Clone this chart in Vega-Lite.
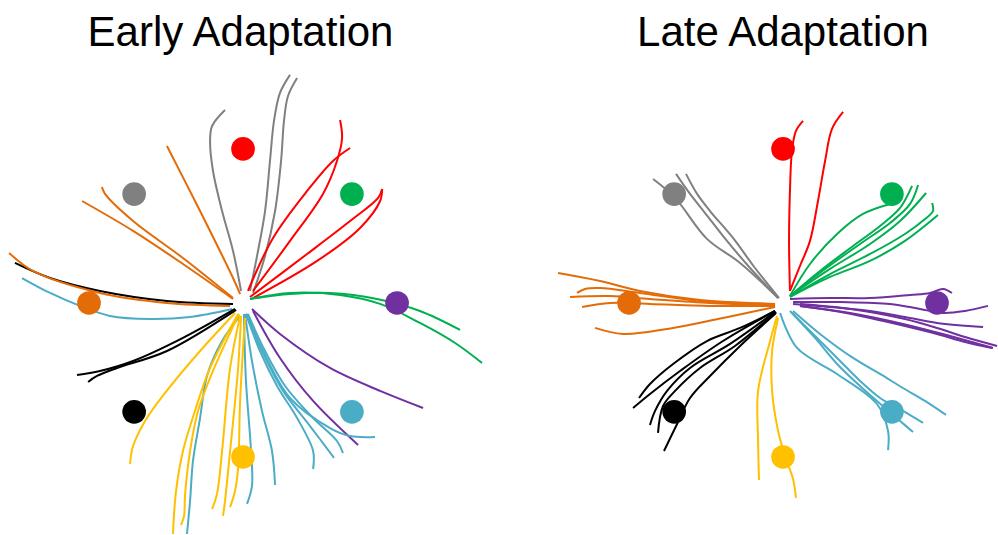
{
"$schema": "https://vega.github.io/schema/vega-lite/v6.json",
"padding": {"top": 12, "left": 0, "right": 0, "bottom": 0},
"spacing": 5,
"background": "white",
"config": {"view": {"stroke": null}, "title": {"font": "Liberation Sans", "fontSize": 42, "fontWeight": "normal", "color": "#000000", "anchor": "middle", "frame": "group", "offset": 6}},
"resolve": {"scale": {"x": "independent", "y": "independent"}},
"datasets": {
"targets": [
{"target":"0°","x":10,"y":0},{"target":"45°","x":7.07,"y":7.07},{"target":"90°","x":0,"y":10},{"target":"135°","x":-7.07,"y":7.07},
{"target":"180°","x":-10,"y":0},{"target":"225°","x":-7.07,"y":-7.07},{"target":"270°","x":0,"y":-10},{"target":"315°","x":7.07,"y":-7.07}
],
"paths": [
{"phase":"Early","target":"135°","traj":"E1","i":0,"x":-1.17,"y":12.53},{"phase":"Early","target":"135°","traj":"E1","i":1,"x":-2.01,"y":11.49},{"phase":"Early","target":"135°","traj":"E1","i":2,"x":-2.14,"y":10.52},{"phase":"Early","target":"135°","traj":"E1","i":3,"x":-1.95,"y":8.57},{"phase":"Early","target":"135°","traj":"E1","i":4,"x":-1.36,"y":5.97},{"phase":"Early","target":"135°","traj":"E1","i":5,"x":-0.65,"y":3.38},{"phase":"Early","target":"135°","traj":"E1","i":6,"x":-0.13,"y":0.78},
{"phase":"Early","target":"135°","traj":"E2","i":0,"x":3.05,"y":14.81},{"phase":"Early","target":"135°","traj":"E2","i":1,"x":2.40,"y":13.64},{"phase":"Early","target":"135°","traj":"E2","i":2,"x":2.01,"y":11.82},{"phase":"Early","target":"135°","traj":"E2","i":3,"x":1.75,"y":9.22},{"phase":"Early","target":"135°","traj":"E2","i":4,"x":1.43,"y":5.97},{"phase":"Early","target":"135°","traj":"E2","i":5,"x":0.91,"y":3.05},{"phase":"Early","target":"135°","traj":"E2","i":6,"x":0.45,"y":0.78},
{"phase":"Early","target":"135°","traj":"E3","i":0,"x":3.51,"y":14.61},{"phase":"Early","target":"135°","traj":"E3","i":1,"x":2.92,"y":13.44},{"phase":"Early","target":"135°","traj":"E3","i":2,"x":2.66,"y":11.82},{"phase":"Early","target":"135°","traj":"E3","i":3,"x":2.47,"y":9.22},{"phase":"Early","target":"135°","traj":"E3","i":4,"x":2.08,"y":5.97},{"phase":"Early","target":"135°","traj":"E3","i":5,"x":1.43,"y":3.05},{"phase":"Early","target":"135°","traj":"E3","i":6,"x":0.65,"y":0.65},
{"phase":"Early","target":"90°","traj":"E4","i":0,"x":0.32,"y":0.78},{"phase":"Early","target":"90°","traj":"E4","i":1,"x":1.95,"y":4.22},{"phase":"Early","target":"90°","traj":"E4","i":2,"x":4.16,"y":7.27},{"phase":"Early","target":"90°","traj":"E4","i":3,"x":5.84,"y":9.22},{"phase":"Early","target":"90°","traj":"E4","i":4,"x":6.95,"y":10.06},
{"phase":"Early","target":"90°","traj":"E5","i":0,"x":0.65,"y":0.78},{"phase":"Early","target":"90°","traj":"E5","i":1,"x":3.05,"y":4.03},{"phase":"Early","target":"90°","traj":"E5","i":2,"x":5.19,"y":7.08},{"phase":"Early","target":"90°","traj":"E5","i":3,"x":6.10,"y":9.22},{"phase":"Early","target":"90°","traj":"E5","i":4,"x":6.43,"y":10.71},{"phase":"Early","target":"90°","traj":"E5","i":5,"x":6.30,"y":11.88},
{"phase":"Early","target":"90°","traj":"E6","i":0,"x":0.45,"y":0.39},{"phase":"Early","target":"90°","traj":"E6","i":1,"x":4.16,"y":3.18},{"phase":"Early","target":"90°","traj":"E6","i":2,"x":6.95,"y":5.32},{"phase":"Early","target":"90°","traj":"E6","i":3,"x":8.77,"y":6.82},{"phase":"Early","target":"90°","traj":"E6","i":4,"x":9.03,"y":7.40},
{"phase":"Early","target":"90°","traj":"E7","i":0,"x":0.65,"y":0.32},{"phase":"Early","target":"90°","traj":"E7","i":1,"x":4.81,"y":2.73},{"phase":"Early","target":"90°","traj":"E7","i":2,"x":7.60,"y":4.87},{"phase":"Early","target":"90°","traj":"E7","i":3,"x":8.90,"y":6.62},{"phase":"Early","target":"90°","traj":"E7","i":4,"x":9.03,"y":7.40},
{"phase":"Early","target":"45°","traj":"E8","i":0,"x":0.45,"y":0.26},{"phase":"Early","target":"45°","traj":"E8","i":1,"x":3.05,"y":0.58},{"phase":"Early","target":"45°","traj":"E8","i":2,"x":5.65,"y":0.65},{"phase":"Early","target":"45°","traj":"E8","i":3,"x":8.70,"y":0.26},{"phase":"Early","target":"45°","traj":"E8","i":4,"x":11.49,"y":-0.52},{"phase":"Early","target":"45°","traj":"E8","i":5,"x":14.09,"y":-1.75},
{"phase":"Early","target":"45°","traj":"E9","i":0,"x":0.45,"y":0.26},{"phase":"Early","target":"45°","traj":"E9","i":1,"x":3.05,"y":0.65},{"phase":"Early","target":"45°","traj":"E9","i":2,"x":6.30,"y":0.52},{"phase":"Early","target":"45°","traj":"E9","i":3,"x":8.90,"y":-0.06},{"phase":"Early","target":"45°","traj":"E9","i":4,"x":11.49,"y":-1.30},{"phase":"Early","target":"45°","traj":"E9","i":5,"x":13.77,"y":-2.60},{"phase":"Early","target":"45°","traj":"E9","i":6,"x":15.52,"y":-3.90},
{"phase":"Early","target":"0°","traj":"E10","i":0,"x":0.58,"y":-0.39},{"phase":"Early","target":"0°","traj":"E10","i":1,"x":2.40,"y":-2.01},{"phase":"Early","target":"0°","traj":"E10","i":2,"x":5.65,"y":-4.22},{"phase":"Early","target":"0°","traj":"E10","i":3,"x":8.90,"y":-5.71},{"phase":"Early","target":"0°","traj":"E10","i":4,"x":11.69,"y":-6.82},
{"phase":"Early","target":"0°","traj":"E11","i":0,"x":0.65,"y":-0.52},{"phase":"Early","target":"0°","traj":"E11","i":1,"x":2.40,"y":-3.57},{"phase":"Early","target":"0°","traj":"E11","i":2,"x":4.55,"y":-6.36},{"phase":"Early","target":"0°","traj":"E11","i":3,"x":7.47,"y":-9.22},
{"phase":"Early","target":"315°","traj":"E12","i":0,"x":0.26,"y":-0.71},{"phase":"Early","target":"315°","traj":"E12","i":1,"x":1.30,"y":-3.12},{"phase":"Early","target":"315°","traj":"E12","i":2,"x":3.05,"y":-6.17},{"phase":"Early","target":"315°","traj":"E12","i":3,"x":5.65,"y":-8.12},{"phase":"Early","target":"315°","traj":"E12","i":4,"x":6.95,"y":-8.64},{"phase":"Early","target":"315°","traj":"E12","i":5,"x":8.57,"y":-8.70},
{"phase":"Early","target":"315°","traj":"E13","i":0,"x":0.32,"y":-0.71},{"phase":"Early","target":"315°","traj":"E13","i":1,"x":1.43,"y":-3.12},{"phase":"Early","target":"315°","traj":"E13","i":2,"x":2.73,"y":-5.39},{"phase":"Early","target":"315°","traj":"E13","i":3,"x":4.55,"y":-7.47},{"phase":"Early","target":"315°","traj":"E13","i":4,"x":6.10,"y":-8.96},{"phase":"Early","target":"315°","traj":"E13","i":5,"x":6.49,"y":-9.74},
{"phase":"Early","target":"315°","traj":"E14","i":0,"x":0.19,"y":-0.71},{"phase":"Early","target":"315°","traj":"E14","i":1,"x":1.23,"y":-3.12},{"phase":"Early","target":"315°","traj":"E14","i":2,"x":2.60,"y":-5.71},{"phase":"Early","target":"315°","traj":"E14","i":3,"x":4.35,"y":-7.99},{"phase":"Early","target":"315°","traj":"E14","i":4,"x":5.91,"y":-10.06},
{"phase":"Early","target":"315°","traj":"E15","i":0,"x":0.19,"y":-0.71},{"phase":"Early","target":"315°","traj":"E15","i":1,"x":1.10,"y":-3.12},{"phase":"Early","target":"315°","traj":"E15","i":2,"x":2.21,"y":-5.39},{"phase":"Early","target":"315°","traj":"E15","i":3,"x":3.51,"y":-7.47},{"phase":"Early","target":"315°","traj":"E15","i":4,"x":4.55,"y":-9.61},{"phase":"Early","target":"315°","traj":"E15","i":5,"x":4.55,"y":-10.78},
{"phase":"Early","target":"315°","traj":"E16","i":0,"x":0.13,"y":-0.71},{"phase":"Early","target":"315°","traj":"E16","i":1,"x":0.58,"y":-3.77},{"phase":"Early","target":"315°","traj":"E16","i":2,"x":1.23,"y":-7.01},{"phase":"Early","target":"315°","traj":"E16","i":3,"x":1.88,"y":-9.61},{"phase":"Early","target":"315°","traj":"E16","i":4,"x":2.08,"y":-11.82},
{"phase":"Early","target":"315°","traj":"E17","i":0,"x":0.06,"y":-0.71},{"phase":"Early","target":"315°","traj":"E17","i":1,"x":0.19,"y":-5.06},{"phase":"Early","target":"315°","traj":"E17","i":2,"x":0.52,"y":-9.61},{"phase":"Early","target":"315°","traj":"E17","i":3,"x":0.58,"y":-11.88},{"phase":"Early","target":"315°","traj":"E17","i":4,"x":0.26,"y":-13.05},
{"phase":"Early","target":"315°","traj":"E18","i":0,"x":-0.19,"y":-0.84},{"phase":"Early","target":"315°","traj":"E18","i":1,"x":-1.36,"y":-2.47},{"phase":"Early","target":"315°","traj":"E18","i":2,"x":-2.34,"y":-4.74},{"phase":"Early","target":"315°","traj":"E18","i":3,"x":-2.79,"y":-7.47},{"phase":"Early","target":"315°","traj":"E18","i":4,"x":-3.25,"y":-10.26},{"phase":"Early","target":"315°","traj":"E18","i":5,"x":-3.44,"y":-12.86},{"phase":"Early","target":"315°","traj":"E18","i":6,"x":-3.64,"y":-15.00},
{"phase":"Early","target":"315°","traj":"E19","i":0,"x":-0.71,"y":-0.39},{"phase":"Early","target":"315°","traj":"E19","i":1,"x":-3.44,"y":-0.91},{"phase":"Early","target":"315°","traj":"E19","i":2,"x":-6.04,"y":-1.04},{"phase":"Early","target":"315°","traj":"E19","i":3,"x":-8.64,"y":-0.84},{"phase":"Early","target":"315°","traj":"E19","i":4,"x":-10.58,"y":-0.19},{"phase":"Early","target":"315°","traj":"E19","i":5,"x":-12.53,"y":0.65},{"phase":"Early","target":"315°","traj":"E19","i":6,"x":-14.35,"y":1.62},
{"phase":"Early","target":"270°","traj":"E20","i":0,"x":-0.32,"y":-0.71},{"phase":"Early","target":"270°","traj":"E20","i":1,"x":-2.14,"y":-4.22},{"phase":"Early","target":"270°","traj":"E20","i":2,"x":-3.12,"y":-7.01},{"phase":"Early","target":"270°","traj":"E20","i":3,"x":-3.90,"y":-9.61},{"phase":"Early","target":"270°","traj":"E20","i":4,"x":-4.35,"y":-12.21},{"phase":"Early","target":"270°","traj":"E20","i":5,"x":-4.55,"y":-15.00},
{"phase":"Early","target":"270°","traj":"E21","i":0,"x":-0.26,"y":-0.71},{"phase":"Early","target":"270°","traj":"E21","i":1,"x":-2.01,"y":-4.55},{"phase":"Early","target":"270°","traj":"E21","i":2,"x":-2.92,"y":-7.01},{"phase":"Early","target":"270°","traj":"E21","i":3,"x":-3.44,"y":-9.61},{"phase":"Early","target":"270°","traj":"E21","i":4,"x":-3.77,"y":-12.53},{"phase":"Early","target":"270°","traj":"E21","i":5,"x":-3.83,"y":-13.83},{"phase":"Early","target":"270°","traj":"E21","i":6,"x":-4.03,"y":-14.42},
{"phase":"Early","target":"270°","traj":"E22","i":0,"x":-0.19,"y":-0.84},{"phase":"Early","target":"270°","traj":"E22","i":1,"x":-0.84,"y":-4.22},{"phase":"Early","target":"270°","traj":"E22","i":2,"x":-1.36,"y":-9.61},{"phase":"Early","target":"270°","traj":"E22","i":3,"x":-1.69,"y":-12.40},{"phase":"Early","target":"270°","traj":"E22","i":4,"x":-2.01,"y":-13.38},
{"phase":"Early","target":"270°","traj":"E23","i":0,"x":-0.13,"y":-0.84},{"phase":"Early","target":"270°","traj":"E23","i":1,"x":-0.32,"y":-4.22},{"phase":"Early","target":"270°","traj":"E23","i":2,"x":-0.84,"y":-9.61},{"phase":"Early","target":"270°","traj":"E23","i":3,"x":-1.17,"y":-12.86},{"phase":"Early","target":"270°","traj":"E23","i":4,"x":-1.30,"y":-13.83},
{"phase":"Early","target":"270°","traj":"E24","i":0,"x":0.13,"y":-0.97},{"phase":"Early","target":"270°","traj":"E24","i":1,"x":-0.19,"y":-6.36},{"phase":"Early","target":"270°","traj":"E24","i":2,"x":-0.32,"y":-10.71},{"phase":"Early","target":"270°","traj":"E24","i":3,"x":-0.52,"y":-12.21},{"phase":"Early","target":"270°","traj":"E24","i":4,"x":-0.84,"y":-13.25},
{"phase":"Early","target":"270°","traj":"E25","i":0,"x":-0.52,"y":-0.65},{"phase":"Early","target":"270°","traj":"E25","i":1,"x":-2.79,"y":-3.12},{"phase":"Early","target":"270°","traj":"E25","i":2,"x":-5.06,"y":-5.84},{"phase":"Early","target":"270°","traj":"E25","i":3,"x":-6.36,"y":-7.66},{"phase":"Early","target":"270°","traj":"E25","i":4,"x":-7.14,"y":-9.29},{"phase":"Early","target":"270°","traj":"E25","i":5,"x":-7.34,"y":-10.45},
{"phase":"Early","target":"225°","traj":"E26","i":0,"x":-0.52,"y":-0.39},{"phase":"Early","target":"225°","traj":"E26","i":1,"x":-3.90,"y":-2.27},{"phase":"Early","target":"225°","traj":"E26","i":2,"x":-7.14,"y":-3.77},{"phase":"Early","target":"225°","traj":"E26","i":3,"x":-9.29,"y":-4.42},{"phase":"Early","target":"225°","traj":"E26","i":4,"x":-10.78,"y":-4.68},
{"phase":"Early","target":"225°","traj":"E27","i":0,"x":-0.45,"y":-0.45},{"phase":"Early","target":"225°","traj":"E27","i":1,"x":-4.94,"y":-3.12},{"phase":"Early","target":"225°","traj":"E27","i":2,"x":-8.18,"y":-4.22},{"phase":"Early","target":"225°","traj":"E27","i":3,"x":-9.48,"y":-4.74},{"phase":"Early","target":"225°","traj":"E27","i":4,"x":-10.06,"y":-5.13},
{"phase":"Early","target":"225°","traj":"E28","i":0,"x":-14.81,"y":2.60},{"phase":"Early","target":"225°","traj":"E28","i":1,"x":-12.53,"y":1.62},{"phase":"Early","target":"225°","traj":"E28","i":2,"x":-9.29,"y":0.78},{"phase":"Early","target":"225°","traj":"E28","i":3,"x":-4.94,"y":0.13},{"phase":"Early","target":"225°","traj":"E28","i":4,"x":-0.65,"y":-0.06},
{"phase":"Early","target":"180°","traj":"E29","i":0,"x":-15.19,"y":3.25},{"phase":"Early","target":"180°","traj":"E29","i":1,"x":-13.64,"y":2.08},{"phase":"Early","target":"180°","traj":"E29","i":2,"x":-9.29,"y":0.65},{"phase":"Early","target":"180°","traj":"E29","i":3,"x":-4.94,"y":0},{"phase":"Early","target":"180°","traj":"E29","i":4,"x":-0.84,"y":-0.19},
{"phase":"Early","target":"180°","traj":"E30","i":0,"x":-10.45,"y":6.62},{"phase":"Early","target":"180°","traj":"E30","i":1,"x":-7.14,"y":4.68},{"phase":"Early","target":"180°","traj":"E30","i":2,"x":-3.90,"y":2.53},{"phase":"Early","target":"180°","traj":"E30","i":3,"x":-0.65,"y":0.26},
{"phase":"Early","target":"180°","traj":"E31","i":0,"x":-9.16,"y":7.53},{"phase":"Early","target":"180°","traj":"E31","i":1,"x":-8.96,"y":7.08},{"phase":"Early","target":"180°","traj":"E31","i":2,"x":-7.14,"y":5.32},{"phase":"Early","target":"180°","traj":"E31","i":3,"x":-3.90,"y":2.92},{"phase":"Early","target":"180°","traj":"E31","i":4,"x":-0.65,"y":0.32},
{"phase":"Early","target":"180°","traj":"E32","i":0,"x":-4.94,"y":10.19},{"phase":"Early","target":"180°","traj":"E32","i":1,"x":-2.79,"y":5.97},{"phase":"Early","target":"180°","traj":"E32","i":2,"x":-0.65,"y":1.62},{"phase":"Early","target":"180°","traj":"E32","i":3,"x":-0.19,"y":0.58},
{"phase":"Late","target":"90°","traj":"L1","i":0,"x":0.45,"y":0.78},{"phase":"Late","target":"90°","traj":"L1","i":1,"x":0.39,"y":4.03},{"phase":"Late","target":"90°","traj":"L1","i":2,"x":0.45,"y":7.27},{"phase":"Late","target":"90°","traj":"L1","i":3,"x":0.58,"y":9.87},{"phase":"Late","target":"90°","traj":"L1","i":4,"x":0.84,"y":11.17},{"phase":"Late","target":"90°","traj":"L1","i":5,"x":1.30,"y":11.82},
{"phase":"Late","target":"90°","traj":"L2","i":0,"x":0.45,"y":0.78},{"phase":"Late","target":"90°","traj":"L2","i":1,"x":1.10,"y":2.40},{"phase":"Late","target":"90°","traj":"L2","i":2,"x":1.75,"y":4.03},{"phase":"Late","target":"90°","traj":"L2","i":3,"x":2.27,"y":6.62},{"phase":"Late","target":"90°","traj":"L2","i":4,"x":2.73,"y":9.22},{"phase":"Late","target":"90°","traj":"L2","i":5,"x":3.18,"y":11.30},{"phase":"Late","target":"90°","traj":"L2","i":6,"x":3.90,"y":12.40},
{"phase":"Late","target":"45°","traj":"L3","i":0,"x":0.45,"y":0.45},{"phase":"Late","target":"45°","traj":"L3","i":1,"x":1.75,"y":2.53},{"phase":"Late","target":"45°","traj":"L3","i":2,"x":3.51,"y":4.48},{"phase":"Late","target":"45°","traj":"L3","i":3,"x":5.19,"y":5.78},{"phase":"Late","target":"45°","traj":"L3","i":4,"x":6.95,"y":6.43},
{"phase":"Late","target":"45°","traj":"L4","i":0,"x":0.45,"y":0.45},{"phase":"Late","target":"45°","traj":"L4","i":1,"x":2.40,"y":2.08},{"phase":"Late","target":"45°","traj":"L4","i":2,"x":4.55,"y":3.70},{"phase":"Late","target":"45°","traj":"L4","i":3,"x":6.30,"y":5.00},{"phase":"Late","target":"45°","traj":"L4","i":4,"x":7.60,"y":6.17},{"phase":"Late","target":"45°","traj":"L4","i":5,"x":8.38,"y":7.60},
{"phase":"Late","target":"45°","traj":"L5","i":0,"x":0.45,"y":0.45},{"phase":"Late","target":"45°","traj":"L5","i":1,"x":2.73,"y":2.21},{"phase":"Late","target":"45°","traj":"L5","i":2,"x":5.00,"y":3.83},{"phase":"Late","target":"45°","traj":"L5","i":3,"x":6.95,"y":5.19},{"phase":"Late","target":"45°","traj":"L5","i":4,"x":8.25,"y":6.43},{"phase":"Late","target":"45°","traj":"L5","i":5,"x":8.77,"y":7.66},
{"phase":"Late","target":"45°","traj":"L6","i":0,"x":0.45,"y":0.45},{"phase":"Late","target":"45°","traj":"L6","i":1,"x":3.05,"y":2.21},{"phase":"Late","target":"45°","traj":"L6","i":2,"x":5.65,"y":3.83},{"phase":"Late","target":"45°","traj":"L6","i":3,"x":7.60,"y":5.32},{"phase":"Late","target":"45°","traj":"L6","i":4,"x":9.29,"y":7.14},
{"phase":"Late","target":"45°","traj":"L7","i":0,"x":0.45,"y":0.39},{"phase":"Late","target":"45°","traj":"L7","i":1,"x":3.05,"y":1.88},{"phase":"Late","target":"45°","traj":"L7","i":2,"x":5.65,"y":3.18},{"phase":"Late","target":"45°","traj":"L7","i":3,"x":7.92,"y":4.48},{"phase":"Late","target":"45°","traj":"L7","i":4,"x":9.22,"y":5.45},{"phase":"Late","target":"45°","traj":"L7","i":5,"x":9.74,"y":5.97},{"phase":"Late","target":"45°","traj":"L7","i":6,"x":9.68,"y":6.49},
{"phase":"Late","target":"45°","traj":"L8","i":0,"x":0.45,"y":0.39},{"phase":"Late","target":"45°","traj":"L8","i":1,"x":3.05,"y":1.69},{"phase":"Late","target":"45°","traj":"L8","i":2,"x":5.65,"y":2.73},{"phase":"Late","target":"45°","traj":"L8","i":3,"x":7.92,"y":4.03},{"phase":"Late","target":"45°","traj":"L8","i":4,"x":10.06,"y":5.71},
{"phase":"Late","target":"135°","traj":"L9","i":0,"x":-0.32,"y":0.32},{"phase":"Late","target":"135°","traj":"L9","i":1,"x":-2.79,"y":2.60},{"phase":"Late","target":"135°","traj":"L9","i":2,"x":-4.94,"y":4.16},{"phase":"Late","target":"135°","traj":"L9","i":3,"x":-7.01,"y":6.82},{"phase":"Late","target":"135°","traj":"L9","i":4,"x":-8.44,"y":8.05},
{"phase":"Late","target":"135°","traj":"L10","i":0,"x":-0.32,"y":0.32},{"phase":"Late","target":"135°","traj":"L10","i":1,"x":-2.14,"y":2.27},{"phase":"Late","target":"135°","traj":"L10","i":2,"x":-3.64,"y":4.03},{"phase":"Late","target":"135°","traj":"L10","i":3,"x":-5.06,"y":5.84},{"phase":"Late","target":"135°","traj":"L10","i":4,"x":-6.04,"y":7.08},{"phase":"Late","target":"135°","traj":"L10","i":5,"x":-6.95,"y":8.38},
{"phase":"Late","target":"135°","traj":"L11","i":0,"x":-0.26,"y":0.32},{"phase":"Late","target":"135°","traj":"L11","i":1,"x":-1.82,"y":2.27},{"phase":"Late","target":"135°","traj":"L11","i":2,"x":-3.25,"y":4.22},{"phase":"Late","target":"135°","traj":"L11","i":3,"x":-4.74,"y":5.97},{"phase":"Late","target":"135°","traj":"L11","i":4,"x":-5.58,"y":7.08},{"phase":"Late","target":"135°","traj":"L11","i":5,"x":-6.30,"y":8.38},
{"phase":"Late","target":"180°","traj":"L12","i":0,"x":-14.61,"y":1.95},{"phase":"Late","target":"180°","traj":"L12","i":1,"x":-11.88,"y":1.43},{"phase":"Late","target":"180°","traj":"L12","i":2,"x":-9.29,"y":0.78},{"phase":"Late","target":"180°","traj":"L12","i":3,"x":-5.39,"y":0.19},{"phase":"Late","target":"180°","traj":"L12","i":4,"x":-0.52,"y":-0.06},
{"phase":"Late","target":"180°","traj":"L13","i":0,"x":-13.38,"y":0.65},{"phase":"Late","target":"180°","traj":"L13","i":1,"x":-12.86,"y":0.91},{"phase":"Late","target":"180°","traj":"L13","i":2,"x":-11.88,"y":0.97},{"phase":"Late","target":"180°","traj":"L13","i":3,"x":-9.29,"y":0.65},{"phase":"Late","target":"180°","traj":"L13","i":4,"x":-5.39,"y":0.13},{"phase":"Late","target":"180°","traj":"L13","i":5,"x":-0.52,"y":-0.06},
{"phase":"Late","target":"180°","traj":"L14","i":0,"x":-13.83,"y":0.39},{"phase":"Late","target":"180°","traj":"L14","i":1,"x":-11.23,"y":0.45},{"phase":"Late","target":"180°","traj":"L14","i":2,"x":-8.64,"y":0.26},{"phase":"Late","target":"180°","traj":"L14","i":3,"x":-4.74,"y":0},{"phase":"Late","target":"180°","traj":"L14","i":4,"x":-0.52,"y":-0.13},
{"phase":"Late","target":"180°","traj":"L15","i":0,"x":-13.05,"y":-0.26},{"phase":"Late","target":"180°","traj":"L15","i":1,"x":-11.23,"y":0},{"phase":"Late","target":"180°","traj":"L15","i":2,"x":-8.64,"y":-0.06},{"phase":"Late","target":"180°","traj":"L15","i":3,"x":-4.74,"y":-0.19},{"phase":"Late","target":"180°","traj":"L15","i":4,"x":-0.52,"y":-0.19},
{"phase":"Late","target":"180°","traj":"L16","i":0,"x":-12.21,"y":-1.62},{"phase":"Late","target":"180°","traj":"L16","i":1,"x":-10.39,"y":-2.01},{"phase":"Late","target":"180°","traj":"L16","i":2,"x":-7.14,"y":-1.62},{"phase":"Late","target":"180°","traj":"L16","i":3,"x":-3.90,"y":-0.97},{"phase":"Late","target":"180°","traj":"L16","i":4,"x":-0.52,"y":-0.26},
{"phase":"Late","target":"225°","traj":"L17","i":0,"x":-0.52,"y":-0.52},{"phase":"Late","target":"225°","traj":"L17","i":1,"x":-2.79,"y":-1.62},{"phase":"Late","target":"225°","traj":"L17","i":2,"x":-4.94,"y":-2.47},{"phase":"Late","target":"225°","traj":"L17","i":3,"x":-7.14,"y":-3.96},{"phase":"Late","target":"225°","traj":"L17","i":4,"x":-8.64,"y":-5.26},{"phase":"Late","target":"225°","traj":"L17","i":5,"x":-9.35,"y":-6.17},
{"phase":"Late","target":"225°","traj":"L18","i":0,"x":-0.52,"y":-0.52},{"phase":"Late","target":"225°","traj":"L18","i":1,"x":-3.90,"y":-2.47},{"phase":"Late","target":"225°","traj":"L18","i":2,"x":-6.69,"y":-4.42},{"phase":"Late","target":"225°","traj":"L18","i":3,"x":-8.64,"y":-5.91},{"phase":"Late","target":"225°","traj":"L18","i":4,"x":-9.74,"y":-6.82},
{"phase":"Late","target":"225°","traj":"L19","i":0,"x":-0.52,"y":-0.58},{"phase":"Late","target":"225°","traj":"L19","i":1,"x":-3.44,"y":-2.66},{"phase":"Late","target":"225°","traj":"L19","i":2,"x":-6.04,"y":-4.22},{"phase":"Late","target":"225°","traj":"L19","i":3,"x":-7.53,"y":-5.71},{"phase":"Late","target":"225°","traj":"L19","i":4,"x":-8.31,"y":-7.01},{"phase":"Late","target":"225°","traj":"L19","i":5,"x":-8.64,"y":-7.92},
{"phase":"Late","target":"225°","traj":"L20","i":0,"x":-0.45,"y":-0.58},{"phase":"Late","target":"225°","traj":"L20","i":1,"x":-3.12,"y":-2.79},{"phase":"Late","target":"225°","traj":"L20","i":2,"x":-5.39,"y":-4.22},{"phase":"Late","target":"225°","traj":"L20","i":3,"x":-7.01,"y":-5.71},{"phase":"Late","target":"225°","traj":"L20","i":4,"x":-7.79,"y":-6.69},{"phase":"Late","target":"225°","traj":"L20","i":5,"x":-8.12,"y":-8.44},
{"phase":"Late","target":"225°","traj":"L21","i":0,"x":-0.45,"y":-0.65},{"phase":"Late","target":"225°","traj":"L21","i":1,"x":-2.79,"y":-2.79},{"phase":"Late","target":"225°","traj":"L21","i":2,"x":-4.74,"y":-4.74},{"phase":"Late","target":"225°","traj":"L21","i":3,"x":-6.04,"y":-6.17},{"phase":"Late","target":"225°","traj":"L21","i":4,"x":-6.88,"y":-7.86},{"phase":"Late","target":"225°","traj":"L21","i":5,"x":-7.73,"y":-9.61},
{"phase":"Late","target":"270°","traj":"L22","i":0,"x":-0.39,"y":-0.84},{"phase":"Late","target":"270°","traj":"L22","i":1,"x":-0.84,"y":-2.47},{"phase":"Late","target":"270°","traj":"L22","i":2,"x":-1.62,"y":-5.71},{"phase":"Late","target":"270°","traj":"L22","i":3,"x":-1.62,"y":-8.96},{"phase":"Late","target":"270°","traj":"L22","i":4,"x":-1.56,"y":-11.49},
{"phase":"Late","target":"270°","traj":"L23","i":0,"x":-0.32,"y":-0.97},{"phase":"Late","target":"270°","traj":"L23","i":1,"x":-0.71,"y":-3.12},{"phase":"Late","target":"270°","traj":"L23","i":2,"x":-0.71,"y":-5.71},{"phase":"Late","target":"270°","traj":"L23","i":3,"x":-0.32,"y":-8.31},{"phase":"Late","target":"270°","traj":"L23","i":4,"x":0.13,"y":-9.94},{"phase":"Late","target":"270°","traj":"L23","i":5,"x":0.65,"y":-11.43},{"phase":"Late","target":"270°","traj":"L23","i":6,"x":0.84,"y":-12.66},
{"phase":"Late","target":"315°","traj":"L24","i":0,"x":-0.19,"y":-0.65},{"phase":"Late","target":"315°","traj":"L24","i":1,"x":0.91,"y":-2.92},{"phase":"Late","target":"315°","traj":"L24","i":2,"x":3.51,"y":-4.61},{"phase":"Late","target":"315°","traj":"L24","i":3,"x":6.10,"y":-6.56},{"phase":"Late","target":"315°","traj":"L24","i":4,"x":6.82,"y":-8.31},{"phase":"Late","target":"315°","traj":"L24","i":5,"x":6.82,"y":-9.55},
{"phase":"Late","target":"315°","traj":"L25","i":0,"x":0.45,"y":-0.52},{"phase":"Late","target":"315°","traj":"L25","i":1,"x":1.95,"y":-2.01},{"phase":"Late","target":"315°","traj":"L25","i":2,"x":3.51,"y":-3.57},{"phase":"Late","target":"315°","traj":"L25","i":3,"x":5.00,"y":-5.06},{"phase":"Late","target":"315°","traj":"L25","i":4,"x":6.30,"y":-6.17},{"phase":"Late","target":"315°","traj":"L25","i":5,"x":7.79,"y":-7.01},{"phase":"Late","target":"315°","traj":"L25","i":6,"x":9.09,"y":-7.79},
{"phase":"Late","target":"315°","traj":"L26","i":0,"x":0.58,"y":-0.65},{"phase":"Late","target":"315°","traj":"L26","i":1,"x":2.08,"y":-2.27},{"phase":"Late","target":"315°","traj":"L26","i":2,"x":3.51,"y":-3.96},{"phase":"Late","target":"315°","traj":"L26","i":3,"x":5.00,"y":-5.39},{"phase":"Late","target":"315°","traj":"L26","i":4,"x":6.10,"y":-6.36},{"phase":"Late","target":"315°","traj":"L26","i":5,"x":7.60,"y":-7.66},{"phase":"Late","target":"315°","traj":"L26","i":6,"x":8.44,"y":-8.38},
{"phase":"Late","target":"315°","traj":"L27","i":0,"x":0.65,"y":-0.52},{"phase":"Late","target":"315°","traj":"L27","i":1,"x":2.40,"y":-2.01},{"phase":"Late","target":"315°","traj":"L27","i":2,"x":4.55,"y":-3.57},{"phase":"Late","target":"315°","traj":"L27","i":3,"x":6.30,"y":-4.61},{"phase":"Late","target":"315°","traj":"L27","i":4,"x":7.79,"y":-5.52},{"phase":"Late","target":"315°","traj":"L27","i":5,"x":9.22,"y":-6.36},{"phase":"Late","target":"315°","traj":"L27","i":6,"x":10.58,"y":-7.27},
{"phase":"Late","target":"0°","traj":"L28","i":0,"x":0.45,"y":0.26},{"phase":"Late","target":"0°","traj":"L28","i":1,"x":3.05,"y":0.32},{"phase":"Late","target":"0°","traj":"L28","i":2,"x":5.65,"y":0.32},{"phase":"Late","target":"0°","traj":"L28","i":3,"x":8.25,"y":0.52},{"phase":"Late","target":"0°","traj":"L28","i":4,"x":9.55,"y":0.65},{"phase":"Late","target":"0°","traj":"L28","i":5,"x":10.39,"y":0.91},{"phase":"Late","target":"0°","traj":"L28","i":6,"x":10.97,"y":0.65},
{"phase":"Late","target":"0°","traj":"L29","i":0,"x":0.65,"y":0.06},{"phase":"Late","target":"0°","traj":"L29","i":1,"x":3.70,"y":0.06},{"phase":"Late","target":"0°","traj":"L29","i":2,"x":6.95,"y":-0.06},{"phase":"Late","target":"0°","traj":"L29","i":3,"x":8.90,"y":-0.39},{"phase":"Late","target":"0°","traj":"L29","i":4,"x":10.39,"y":-0.65},{"phase":"Late","target":"0°","traj":"L29","i":5,"x":11.82,"y":-0.52},{"phase":"Late","target":"0°","traj":"L29","i":6,"x":13.31,"y":-0.19},
{"phase":"Late","target":"0°","traj":"L30","i":0,"x":0.65,"y":-0.06},{"phase":"Late","target":"0°","traj":"L30","i":1,"x":3.05,"y":-0.26},{"phase":"Late","target":"0°","traj":"L30","i":2,"x":5.65,"y":-0.52},{"phase":"Late","target":"0°","traj":"L30","i":3,"x":7.92,"y":-0.91},{"phase":"Late","target":"0°","traj":"L30","i":4,"x":10.00,"y":-1.30},{"phase":"Late","target":"0°","traj":"L30","i":5,"x":12.99,"y":-1.56},
{"phase":"Late","target":"0°","traj":"L31","i":0,"x":1.10,"y":-0.06},{"phase":"Late","target":"0°","traj":"L31","i":1,"x":3.38,"y":-0.26},{"phase":"Late","target":"0°","traj":"L31","i":2,"x":5.65,"y":-0.58},{"phase":"Late","target":"0°","traj":"L31","i":3,"x":7.92,"y":-1.04},{"phase":"Late","target":"0°","traj":"L31","i":4,"x":10.00,"y":-1.62},{"phase":"Late","target":"0°","traj":"L31","i":5,"x":11.82,"y":-2.21},{"phase":"Late","target":"0°","traj":"L31","i":6,"x":13.90,"y":-2.79},
{"phase":"Late","target":"0°","traj":"L32","i":0,"x":1.10,"y":-0.19},{"phase":"Late","target":"0°","traj":"L32","i":1,"x":4.35,"y":-0.65},{"phase":"Late","target":"0°","traj":"L32","i":2,"x":7.79,"y":-1.36},{"phase":"Late","target":"0°","traj":"L32","i":3,"x":10.84,"y":-2.14},{"phase":"Late","target":"0°","traj":"L32","i":4,"x":13.64,"y":-2.92},
{"phase":"Late","target":"0°","traj":"L33","i":0,"x":1.10,"y":-0.19},{"phase":"Late","target":"0°","traj":"L33","i":1,"x":3.38,"y":-0.52},{"phase":"Late","target":"0°","traj":"L33","i":2,"x":5.65,"y":-0.97},{"phase":"Late","target":"0°","traj":"L33","i":3,"x":7.92,"y":-1.49},{"phase":"Late","target":"0°","traj":"L33","i":4,"x":10.00,"y":-2.01},{"phase":"Late","target":"0°","traj":"L33","i":5,"x":11.82,"y":-2.53},{"phase":"Late","target":"0°","traj":"L33","i":6,"x":13.57,"y":-2.92}
]
},
"hconcat": [
{
"title": {"text": "Early Adaptation", "dx": -7},
"width": 495, "height": 475,
"layer": [
{"data": {"name": "paths"}, "transform": [{"filter": "datum.phase === 'Early'"}],
 "mark": {"type": "line", "strokeWidth": 2, "interpolate": "catmull-rom", "clip": false},
 "encoding": {
  "x": {"field": "x", "type": "quantitative", "scale": {"domain": [-15.78, 16.36], "nice": false, "zero": false}, "axis": null},
  "y": {"field": "y", "type": "quantitative", "scale": {"domain": [-15.13, 15.71], "nice": false, "zero": false}, "axis": null},
  "detail": {"field": "traj"},
  "order": {"field": "i", "type": "quantitative"},
  "color": {"field": "target", "type": "nominal", "legend": null, "scale": {"domain": ["0°","45°","90°","135°","180°","225°","270°","315°"], "range": ["#7030A0","#00B050","#FF0000","#808080","#E36C09","#000000","#FFC000","#4BACC6"]}}
 }},
{"data": {"name": "targets"},
 "mark": {"type": "circle", "size": 560, "opacity": 1},
 "encoding": {
  "x": {"field": "x", "type": "quantitative"},
  "y": {"field": "y", "type": "quantitative"},
  "color": {"field": "target", "type": "nominal", "legend": null}
 }}
]
},
{
"title": {"text": "Late Adaptation", "dx": 34},
"width": 498, "height": 475,
"layer": [
{"data": {"name": "paths"}, "transform": [{"filter": "datum.phase === 'Late'"}],
 "mark": {"type": "line", "strokeWidth": 2, "interpolate": "catmull-rom", "clip": false},
 "encoding": {
  "x": {"field": "x", "type": "quantitative", "scale": {"domain": [-18.38, 13.96], "nice": false, "zero": false}, "axis": null},
  "y": {"field": "y", "type": "quantitative", "scale": {"domain": [-15.13, 15.71], "nice": false, "zero": false}, "axis": null},
  "detail": {"field": "traj"},
  "order": {"field": "i", "type": "quantitative"},
  "color": {"field": "target", "type": "nominal", "legend": null}
 }},
{"data": {"name": "targets"},
 "mark": {"type": "circle", "size": 560, "opacity": 1},
 "encoding": {
  "x": {"field": "x", "type": "quantitative"},
  "y": {"field": "y", "type": "quantitative"},
  "color": {"field": "target", "type": "nominal", "legend": null}
 }}
]
}
]
}
